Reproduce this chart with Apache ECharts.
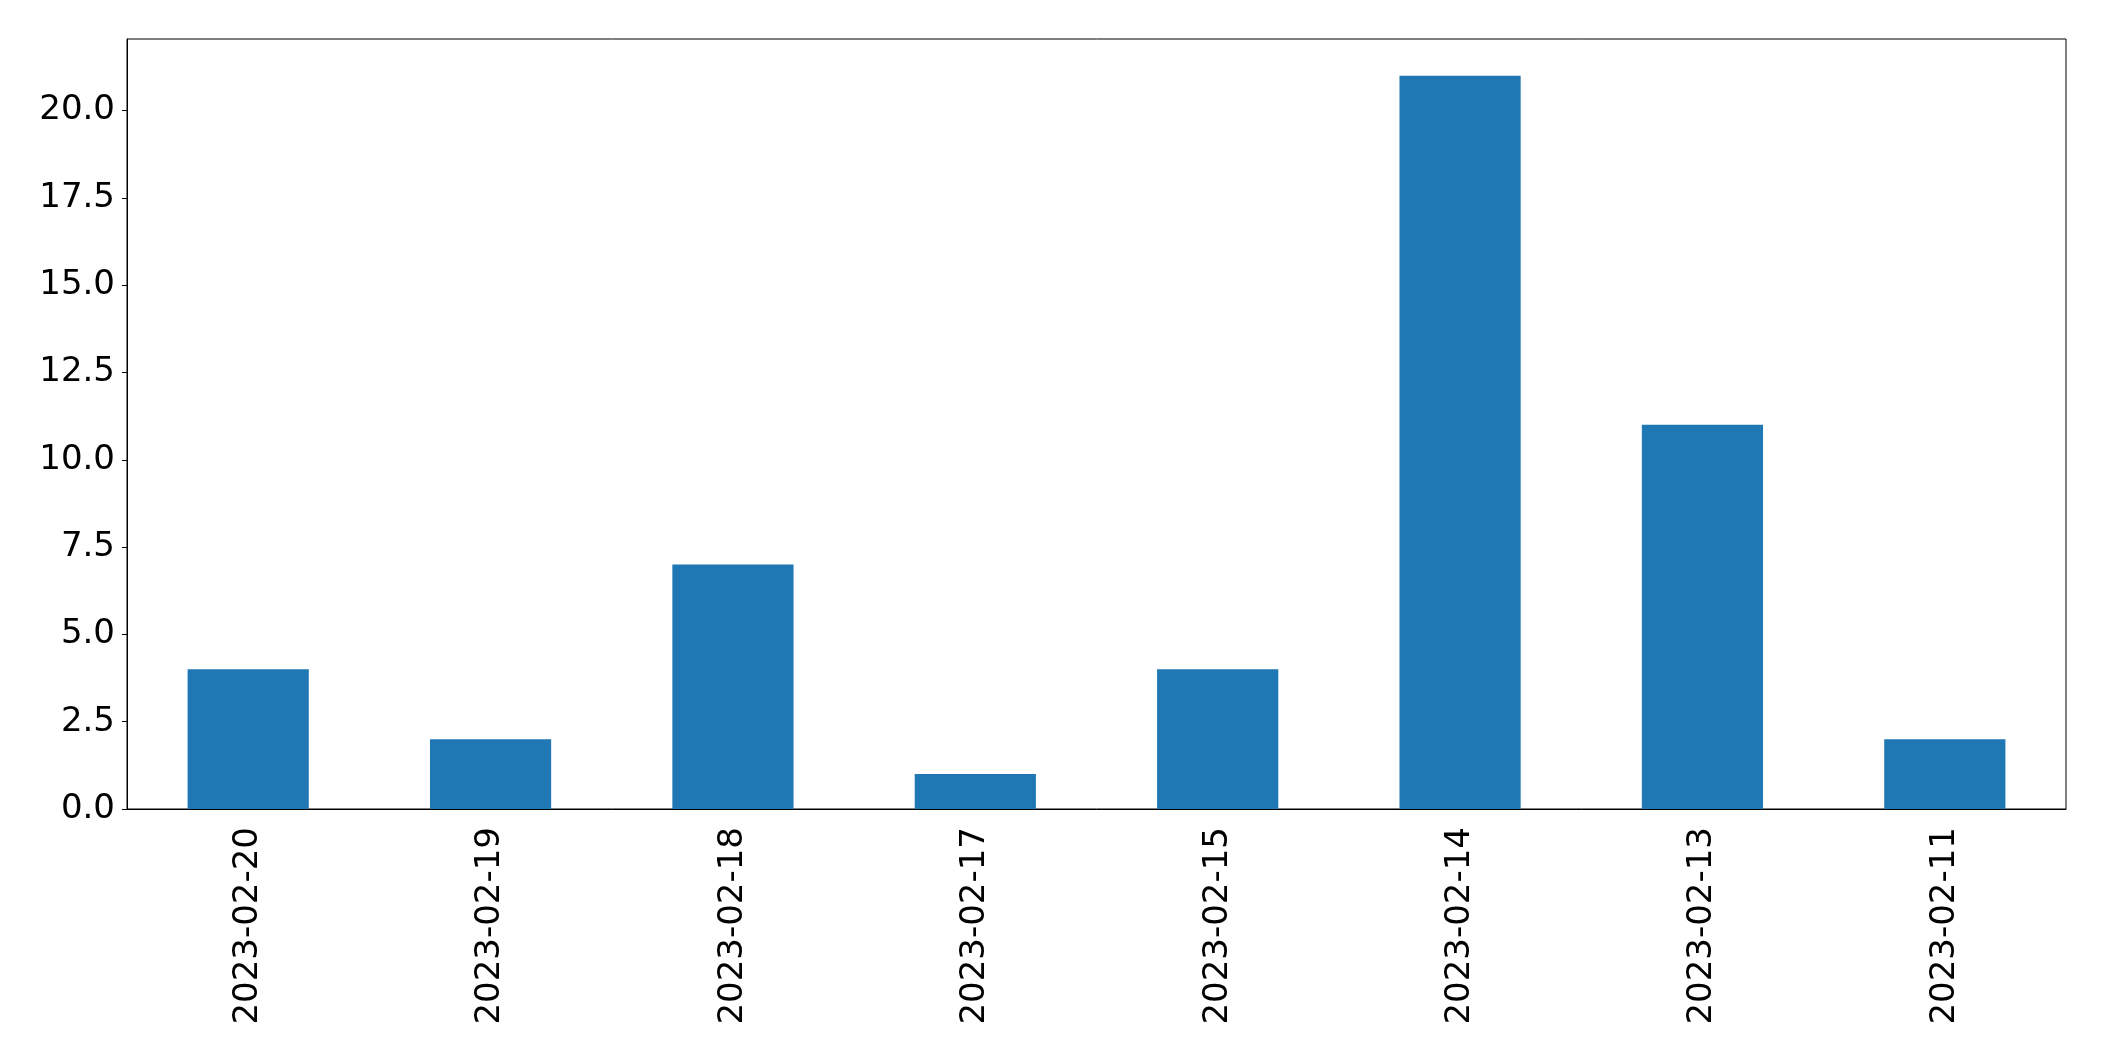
<!DOCTYPE html>
<html>
<head>
<meta charset="utf-8">
<script src="https://cdn.jsdelivr.net/npm/echarts@6/dist/echarts.min.js"></script>
<style>
  html, body { margin: 0; padding: 0; background: #fff; }
  #chart { width: 2104px; height: 1061px; }
</style>
</head>
<body>
<div id="chart"></div>
<script>
const dates = ['2023-02-20', '2023-02-19', '2023-02-18', '2023-02-17', '2023-02-15', '2023-02-14', '2023-02-13', '2023-02-11'];
const counts = [4, 2, 7, 1, 4, 21, 11, 2];
const yTicks = [0, 2.5, 5, 7.5, 10, 12.5, 15, 17.5, 20];

let myChart = echarts.init(document.getElementById('chart'));
myChart.setOption({
  animation: false,
  textStyle: { fontFamily: 'DejaVu Sans' },
  grid: {
    left: 127,
    top: 39,
    right: 38,
    bottom: 252,
    show: true,
    borderColor: '#000',
    borderWidth: 1,
    outerBoundsMode: 'none'
  },
  xAxis: {
    type: 'category',
    data: dates,
    axisLine: { lineStyle: { color: '#000', width: 1 } },
    axisTick: { alignWithLabel: true, length: 5, lineStyle: { color: '#000' } },
    axisLabel: {
      rotate: 90,
      margin: 18,
      color: '#000',
      fontSize: 34,
      fontFamily: 'DejaVu Sans'
    }
  },
  yAxis: {
    type: 'value',
    min: 0,
    max: 22.05,
    splitLine: { show: false },
    axisLine: { show: true, lineStyle: { color: '#000', width: 1 } },
    axisTick: { show: true, length: 5, customValues: yTicks, lineStyle: { color: '#000' } },
    axisLabel: {
      customValues: yTicks,
      margin: 12,
      padding: [7, 0, 0, 0],
      color: '#000',
      fontSize: 34,
      fontFamily: 'DejaVu Sans',
      formatter: v => v.toFixed(1)
    }
  },
  series: [
    {
      type: 'bar',
      data: counts,
      barWidth: '50%',
      itemStyle: { color: '#1f77b4' }
    }
  ]
});
</script>
</body>
</html>
